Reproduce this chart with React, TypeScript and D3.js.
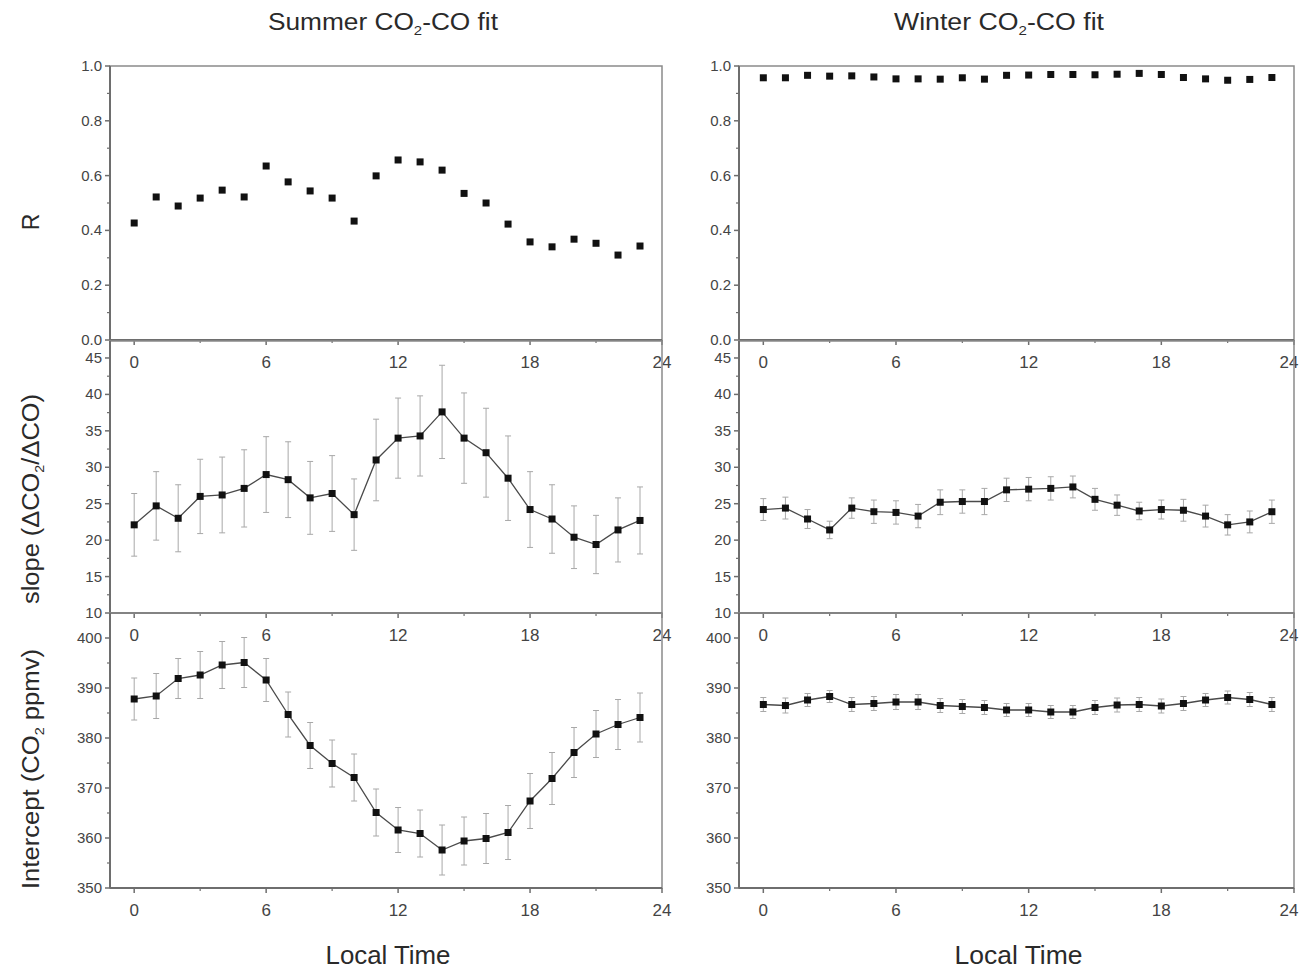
import * as d3 from "d3";

// hour of day for every point
const hours = [0, 1, 2, 3, 4, 5, 6, 7, 8, 9, 10, 11, 12, 13, 14, 15, 16, 17, 18, 19, 20, 21, 22, 23];

const summerR = [0.427, 0.522, 0.489, 0.518, 0.547, 0.522, 0.635, 0.577, 0.544, 0.518, 0.434, 0.599, 0.657, 0.65, 0.62, 0.535, 0.5, 0.423, 0.358, 0.34, 0.368, 0.353, 0.31, 0.343];
const winterR = [0.957, 0.957, 0.966, 0.963, 0.964, 0.96, 0.953, 0.953, 0.952, 0.957, 0.952, 0.966, 0.967, 0.969, 0.969, 0.968, 0.97, 0.973, 0.969, 0.958, 0.953, 0.948, 0.951, 0.958];

const summerSlope = [22.1, 24.7, 23.0, 26.0, 26.2, 27.1, 29.0, 28.3, 25.8, 26.4, 23.5, 31.0, 34.0, 34.3, 37.6, 34.0, 32.0, 28.5, 24.2, 22.9, 20.4, 19.4, 21.4, 22.7];
const summerSlopeErr = [4.3, 4.7, 4.6, 5.1, 5.2, 5.3, 5.2, 5.2, 5.0, 5.2, 4.9, 5.6, 5.5, 5.5, 6.4, 6.2, 6.1, 5.8, 5.2, 4.7, 4.3, 4.0, 4.4, 4.6];
const winterSlope = [24.2, 24.4, 22.9, 21.4, 24.4, 23.9, 23.8, 23.3, 25.2, 25.3, 25.3, 26.9, 27.0, 27.1, 27.3, 25.6, 24.8, 24.0, 24.2, 24.1, 23.3, 22.1, 22.5, 23.9];
const winterSlopeErr = [1.5, 1.5, 1.3, 1.2, 1.4, 1.6, 1.6, 1.6, 1.7, 1.6, 1.8, 1.6, 1.6, 1.6, 1.5, 1.5, 1.4, 1.2, 1.3, 1.5, 1.5, 1.4, 1.5, 1.6];

const summerIntercept = [387.8, 388.4, 391.9, 392.6, 394.6, 395.1, 391.6, 384.7, 378.5, 374.9, 372.1, 365.1, 361.6, 360.9, 357.6, 359.4, 359.9, 361.1, 367.4, 371.9, 377.1, 380.8, 382.7, 384.1];
const summerInterceptErr = [4.2, 4.5, 4.0, 4.7, 4.7, 5.0, 4.3, 4.5, 4.6, 4.7, 4.7, 4.7, 4.5, 4.7, 5.0, 4.8, 5.0, 5.4, 5.5, 5.2, 5.0, 4.7, 5.0, 4.9];
const winterIntercept = [386.7, 386.5, 387.6, 388.3, 386.7, 386.9, 387.2, 387.2, 386.5, 386.3, 386.1, 385.6, 385.6, 385.2, 385.2, 386.1, 386.6, 386.7, 386.4, 386.9, 387.6, 388.1, 387.7, 386.7];
const winterInterceptErr = [1.4, 1.5, 1.3, 1.2, 1.4, 1.4, 1.5, 1.5, 1.4, 1.4, 1.4, 1.3, 1.3, 1.3, 1.3, 1.4, 1.4, 1.4, 1.4, 1.4, 1.3, 1.3, 1.4, 1.4];

const xTicks = [0, 6, 12, 18, 24];
const xMinorTicks = [3, 9, 15, 21];
const rTicks = [0, 0.2, 0.4, 0.6, 0.8, 1.0];
const rMinor = [0.1, 0.3, 0.5, 0.7, 0.9];
const slopeTicks = [10, 15, 20, 25, 30, 35, 40, 45];
const slopeMinor = [12.5, 17.5, 22.5, 27.5, 32.5, 37.5, 42.5];
const interceptTicks = [350, 360, 370, 380, 390, 400];
const interceptMinor = [355, 365, 375, 385, 395];

const FONT = "'Liberation Sans', Arial, sans-serif";
const AXIS = "#6e6e6e";
const TEXT = "#2a2a2a";
const TICK_TEXT = "#444";

const columns = [
  { left: 110, right: 662, title: "Summer", cx: 383, titleLen: 230, xLabelLen: 125 },
  { left: 739, right: 1294, title: "Winter", cx: 999, titleLen: 210, xLabelLen: 128 },
];

const rows = [
  { top: 66, bottom: 340, domain: [0, 1], ticks: rTicks, minor: rMinor, fmt: d3.format(".1f") },
  { top: 341, bottom: 613, domain: [10, 47.33], ticks: slopeTicks, minor: slopeMinor, fmt: d3.format("d") },
  { top: 613, bottom: 888, domain: [350, 405], ticks: interceptTicks, minor: interceptMinor, fmt: d3.format("d") },
];

type Series = { values: number[]; err?: number[]; line: boolean };

const panels: Series[][] = [
  [
    { values: summerR, line: false },
    { values: summerSlope, err: summerSlopeErr, line: true },
    { values: summerIntercept, err: summerInterceptErr, line: true },
  ],
  [
    { values: winterR, line: false },
    { values: winterSlope, err: winterSlopeErr, line: true },
    { values: winterIntercept, err: winterInterceptErr, line: true },
  ],
];

function Panel({ col, row, s }: { col: number; row: number; s: Series }) {
  const c = columns[col];
  const r = rows[row];
  const x = d3.scaleLinear().domain([-1.1, 24]).range([c.left, c.right]);
  const y = d3.scaleLinear().domain(r.domain).range([r.bottom, r.top]);
  const pts = hours.map((h, i) => ({ h, v: s.values[i], e: s.err ? s.err[i] : 0 }));
  const line = d3
    .line<{ h: number; v: number }>()
    .x((d) => x(d.h))
    .y((d) => y(d.v));

  return (
    <g>
      <rect x={c.left} y={r.top} width={c.right - c.left} height={r.bottom - r.top} fill="none" stroke="#8a8a8a" strokeWidth={1.5} />
      <line x1={c.left} x2={c.right} y1={r.bottom} y2={r.bottom} stroke={AXIS} strokeWidth={2} />
      <line x1={c.left} x2={c.left} y1={r.top} y2={r.bottom} stroke={AXIS} strokeWidth={2} />
      {xTicks.map((t) => (
        <g key={"xt" + t}>
          <line x1={x(t)} x2={x(t)} y1={r.bottom} y2={r.bottom + 5} stroke={AXIS} strokeWidth={1.5} />
          {/* keep the last label inside the page */}
          <text x={Math.min(x(t), 1289)} y={r.bottom + 28} textAnchor="middle" fontSize={17} fill={TICK_TEXT} fontFamily={FONT}>
            {t}
          </text>
        </g>
      ))}
      {xMinorTicks.map((t) => (
        <line key={"xm" + t} x1={x(t)} x2={x(t)} y1={r.bottom} y2={r.bottom + 3} stroke={AXIS} strokeWidth={1.2} />
      ))}
      {r.ticks.map((t) => (
        <g key={"yt" + t}>
          <line x1={c.left - 5} x2={c.left} y1={y(t)} y2={y(t)} stroke={AXIS} strokeWidth={1.5} />
          <text x={c.left - 8} y={y(t) + 5} textAnchor="end" fontSize={15} fill={TICK_TEXT} fontFamily={FONT}>
            {r.fmt(t)}
          </text>
        </g>
      ))}
      {r.minor.map((t) => (
        <line key={"ym" + t} x1={c.left - 3} x2={c.left} y1={y(t)} y2={y(t)} stroke={AXIS} strokeWidth={1.2} />
      ))}
      {s.err &&
        pts.map((d) => (
          <g key={"e" + d.h} stroke="#a8a8a8" strokeWidth={1}>
            <line x1={x(d.h)} x2={x(d.h)} y1={y(d.v - d.e)} y2={y(d.v + d.e)} />
            <line x1={x(d.h) - 3} x2={x(d.h) + 3} y1={y(d.v - d.e)} y2={y(d.v - d.e)} />
            <line x1={x(d.h) - 3} x2={x(d.h) + 3} y1={y(d.v + d.e)} y2={y(d.v + d.e)} />
          </g>
        ))}
      {s.line && <path d={line(pts) ?? ""} fill="none" stroke="#4a4a4a" strokeWidth={1.3} />}
      {pts.map((d) => (
        <rect key={"p" + d.h} x={x(d.h) - 3.5} y={y(d.v) - 3.5} width={7} height={7} fill="#111" />
      ))}
    </g>
  );
}

export default function App() {
  return (
    <svg width={1301} height={968} style={{ position: "absolute", left: 0, top: 0, background: "#fff" }} fontFamily={FONT}>
      <rect width={1301} height={968} fill="#fff" />
      {columns.map((c, ci) => (
        <g key={c.title}>
          <text x={c.cx} y={30} textAnchor="middle" fontSize={23} fill={TEXT} textLength={c.titleLen} lengthAdjust="spacingAndGlyphs">
            {c.title} CO
            <tspan dy={5} fontSize={13}>2</tspan>
            <tspan dy={-5}>-CO fit</tspan>
          </text>
          {rows.map((_, ri) => (
            <Panel key={ri} col={ci} row={ri} s={panels[ci][ri]} />
          ))}
          <text x={(c.left + c.right) / 2 + 2} y={964} textAnchor="middle" fontSize={25} fill={TEXT} textLength={c.xLabelLen} lengthAdjust="spacingAndGlyphs">
            Local Time
          </text>
        </g>
      ))}
      <text transform="translate(39,222) rotate(-90)" textAnchor="middle" fontSize={23} fill={TEXT}>
        R
      </text>
      <text transform="translate(39,499) rotate(-90)" textAnchor="middle" fontSize={23} fill={TEXT} textLength={210} lengthAdjust="spacingAndGlyphs">
        slope (ΔCO
        <tspan dy={5} fontSize={13}>2</tspan>
        <tspan dy={-5}>/ΔCO)</tspan>
      </text>
      <text transform="translate(39,769) rotate(-90)" textAnchor="middle" fontSize={23} fill={TEXT} textLength={240} lengthAdjust="spacingAndGlyphs">
        Intercept (CO
        <tspan dy={5} fontSize={13}>2</tspan>
        <tspan dy={-5}> ppmv)</tspan>
      </text>
    </svg>
  );
}
